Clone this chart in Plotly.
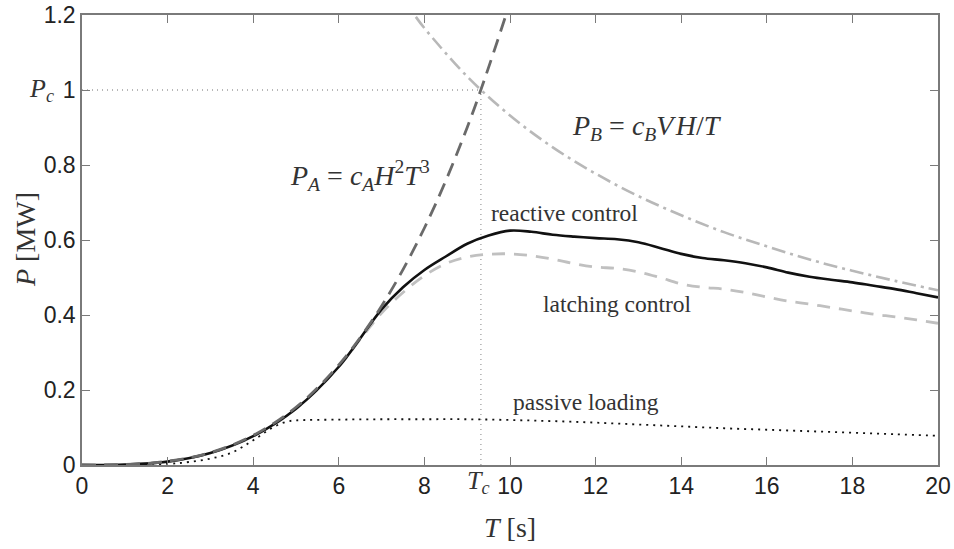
import plotly.graph_objects as go

# ---------------- data ----------------
T_A = [0, 1, 2, 3, 4, 5, 6, 7, 8, 9, 9.9]
P_A = [0, 0.0012, 0.0099, 0.033, 0.079, 0.154, 0.267, 0.424, 0.632, 0.900, 1.198]

T_B = [7.8, 8, 9, 10, 11, 12, 13, 14, 15, 16, 17, 18, 19, 20]
P_B = [1.195, 1.165, 1.036, 0.932, 0.847, 0.777, 0.717, 0.666, 0.621, 0.583, 0.548, 0.518, 0.491, 0.466]

T_react = [0, 1, 2, 3, 4, 5, 6, 7, 7.5, 8, 8.5, 9, 9.5, 10, 10.5, 11, 11.5, 12, 12.5, 13,
           13.5, 14, 14.5, 15, 15.5, 16, 16.5, 17, 17.5, 18, 18.5, 19, 19.5, 20]
P_react = [0, 0.001, 0.009, 0.032, 0.077, 0.15, 0.262, 0.415, 0.474, 0.52, 0.556, 0.59, 0.612,
           0.625, 0.622, 0.614, 0.609, 0.605, 0.602, 0.594, 0.579, 0.563, 0.552, 0.546, 0.538,
           0.527, 0.513, 0.502, 0.494, 0.487, 0.478, 0.469, 0.458, 0.447]

T_latch = [0, 1, 2, 3, 4, 5, 6, 6.5, 7, 7.5, 8, 8.5, 9, 9.5, 10, 10.5, 11, 11.5, 12, 12.5, 13,
           13.5, 14, 14.5, 15, 15.5, 16, 16.5, 17, 17.5, 18, 18.5, 19, 19.5, 20]
P_latch = [0, 0.001, 0.009, 0.032, 0.077, 0.15, 0.262, 0.335, 0.405, 0.46, 0.505, 0.537, 0.555,
           0.562, 0.563, 0.558, 0.549, 0.537, 0.528, 0.524, 0.515, 0.5, 0.483, 0.474, 0.469,
           0.46, 0.448, 0.437, 0.429, 0.42, 0.411, 0.402, 0.395, 0.387, 0.378]

T_pass = [0, 1, 2, 2.5, 3, 3.5, 4, 4.5, 4.8, 5, 6, 7, 8, 9, 10, 11, 12, 13, 14, 15, 16, 17, 18, 19, 20]
P_pass = [0, 0, 0.003, 0.008, 0.017, 0.033, 0.066, 0.103, 0.116, 0.119, 0.121, 0.122, 0.122,
          0.122, 0.12, 0.117, 0.113, 0.108, 0.103, 0.098, 0.094, 0.09, 0.086, 0.082, 0.078]

T_c = 9.32
P_c = 1.0

x_ticks = [0, 2, 4, 6, 8, 10, 12, 14, 16, 18, 20]
y_ticks = [0, 0.2, 0.4, 0.6, 0.8, 1.0, 1.2]
y_ticklabels = ["0", "0.2", "0.4", "0.6", "0.8", "1", "1.2"]

# ---------------- figure ----------------
fig = go.Figure()

# reference dotted lines
fig.add_trace(go.Scatter(x=[0, T_c], y=[P_c, P_c], mode="lines",
                         line=dict(color="#a0a0a0", width=1.3, dash="1px,4px"), hoverinfo="skip"))
fig.add_trace(go.Scatter(x=[T_c, T_c], y=[0, P_c], mode="lines",
                         line=dict(color="#a0a0a0", width=1.3, dash="1px,4px"), hoverinfo="skip"))

fig.add_trace(go.Scatter(x=T_B, y=P_B, mode="lines", line_shape="spline",
                         line=dict(color="#b8b8b8", width=2.6, dash="14px,5px,3px,5px")))
fig.add_trace(go.Scatter(x=T_pass, y=P_pass, mode="lines", line_shape="spline",
                         line=dict(color="#111111", width=1.8, dash="2px,5px")))
fig.add_trace(go.Scatter(x=T_latch, y=P_latch, mode="lines", line_shape="spline",
                         line=dict(color="#c0c0c0", width=2.8, dash="13px,9px")))
fig.add_trace(go.Scatter(x=T_react, y=P_react, mode="lines", line_shape="spline",
                         line=dict(color="#111111", width=2.6)))
fig.add_trace(go.Scatter(x=T_A, y=P_A, mode="lines", line_shape="spline",
                         line=dict(color="#6a6a6a", width=2.8, dash="14px,8px")))

serif = "Liberation Serif, Times New Roman, serif"
txt_col = "#333333"

ann = [
    dict(x=6.5, y=0.773,
         text="<i>P</i><sub><i>A</i></sub>&nbsp;=&nbsp;<i>c</i><sub><i>A</i></sub><i>H</i><sup>2</sup><i>T</i><sup>3</sup>",
         size=28),
    dict(x=13.2, y=0.9,
         text="<i>P</i><sub><i>B</i></sub>&nbsp;=&nbsp;<i>c</i><sub><i>B</i></sub><i>V</i>&#8202;<i>H</i>/<i>T</i>",
         size=28),
    dict(x=11.27, y=0.672, text="reactive control", size=23.5),
    dict(x=12.52, y=0.429, text="latching control", size=23.5),
    dict(x=11.78, y=0.168, text="passive loading", size=23.5),
]
for a in ann:
    fig.add_annotation(x=a["x"], y=a["y"], xref="x", yref="y", text=a["text"], showarrow=False,
                       font=dict(family=serif, size=a["size"], color=txt_col),
                       xanchor="center", yanchor="middle")

# P_c and T_c labels
fig.add_annotation(x=0, y=P_c, xref="x", yref="y", text="<i>P</i><sub><i>c</i></sub>", showarrow=False,
                   xanchor="right", yanchor="middle", xshift=-26,
                   font=dict(family=serif, size=26, color=txt_col))
fig.add_annotation(x=T_c, y=0, xref="x", yref="y", text="<i>T</i><sub><i>c</i></sub>", showarrow=False,
                   xanchor="center", yanchor="middle", yshift=-17, xshift=-2,
                   font=dict(family=serif, size=26, color=txt_col))

# axis titles
fig.add_annotation(x=0.5, y=0, xref="paper", yref="paper", text="<i>T</i> [s]", showarrow=False,
                   xanchor="center", yanchor="middle", yshift=-62,
                   font=dict(family=serif, size=28, color=txt_col))
fig.add_annotation(x=0, y=0.5, xref="paper", yref="paper", text="<i>P</i> [MW]", showarrow=False,
                   xanchor="center", yanchor="middle", xshift=-57, textangle=-90,
                   font=dict(family=serif, size=28, color=txt_col))

axis_common = dict(showgrid=False, zeroline=False, showline=True, linecolor="#7a7a7a", linewidth=1.5,
                   mirror="ticks", ticks="inside", ticklen=8, tickwidth=1.2, tickcolor="#7a7a7a",
                   automargin=False, ticklabeloverflow="allow",
                   tickfont=dict(family="Liberation Sans, Arial, sans-serif", size=23, color="#222222"))

fig.update_xaxes(range=[0, 20], tickvals=x_ticks, ticktext=[str(v) for v in x_ticks], **axis_common)
fig.update_yaxes(range=[0, 1.2], tickvals=y_ticks, ticktext=y_ticklabels, **axis_common)

fig.update_layout(width=954, height=549, showlegend=False,
                  margin=dict(l=82, r=16, t=15, b=84),
                  plot_bgcolor="white", paper_bgcolor="white")

# remove the default page margin so the figure sits at the window's top-left corner
fig.write_html("out.html", config={"displayModeBar": False},
               post_script="document.body.style.margin='0px';")
